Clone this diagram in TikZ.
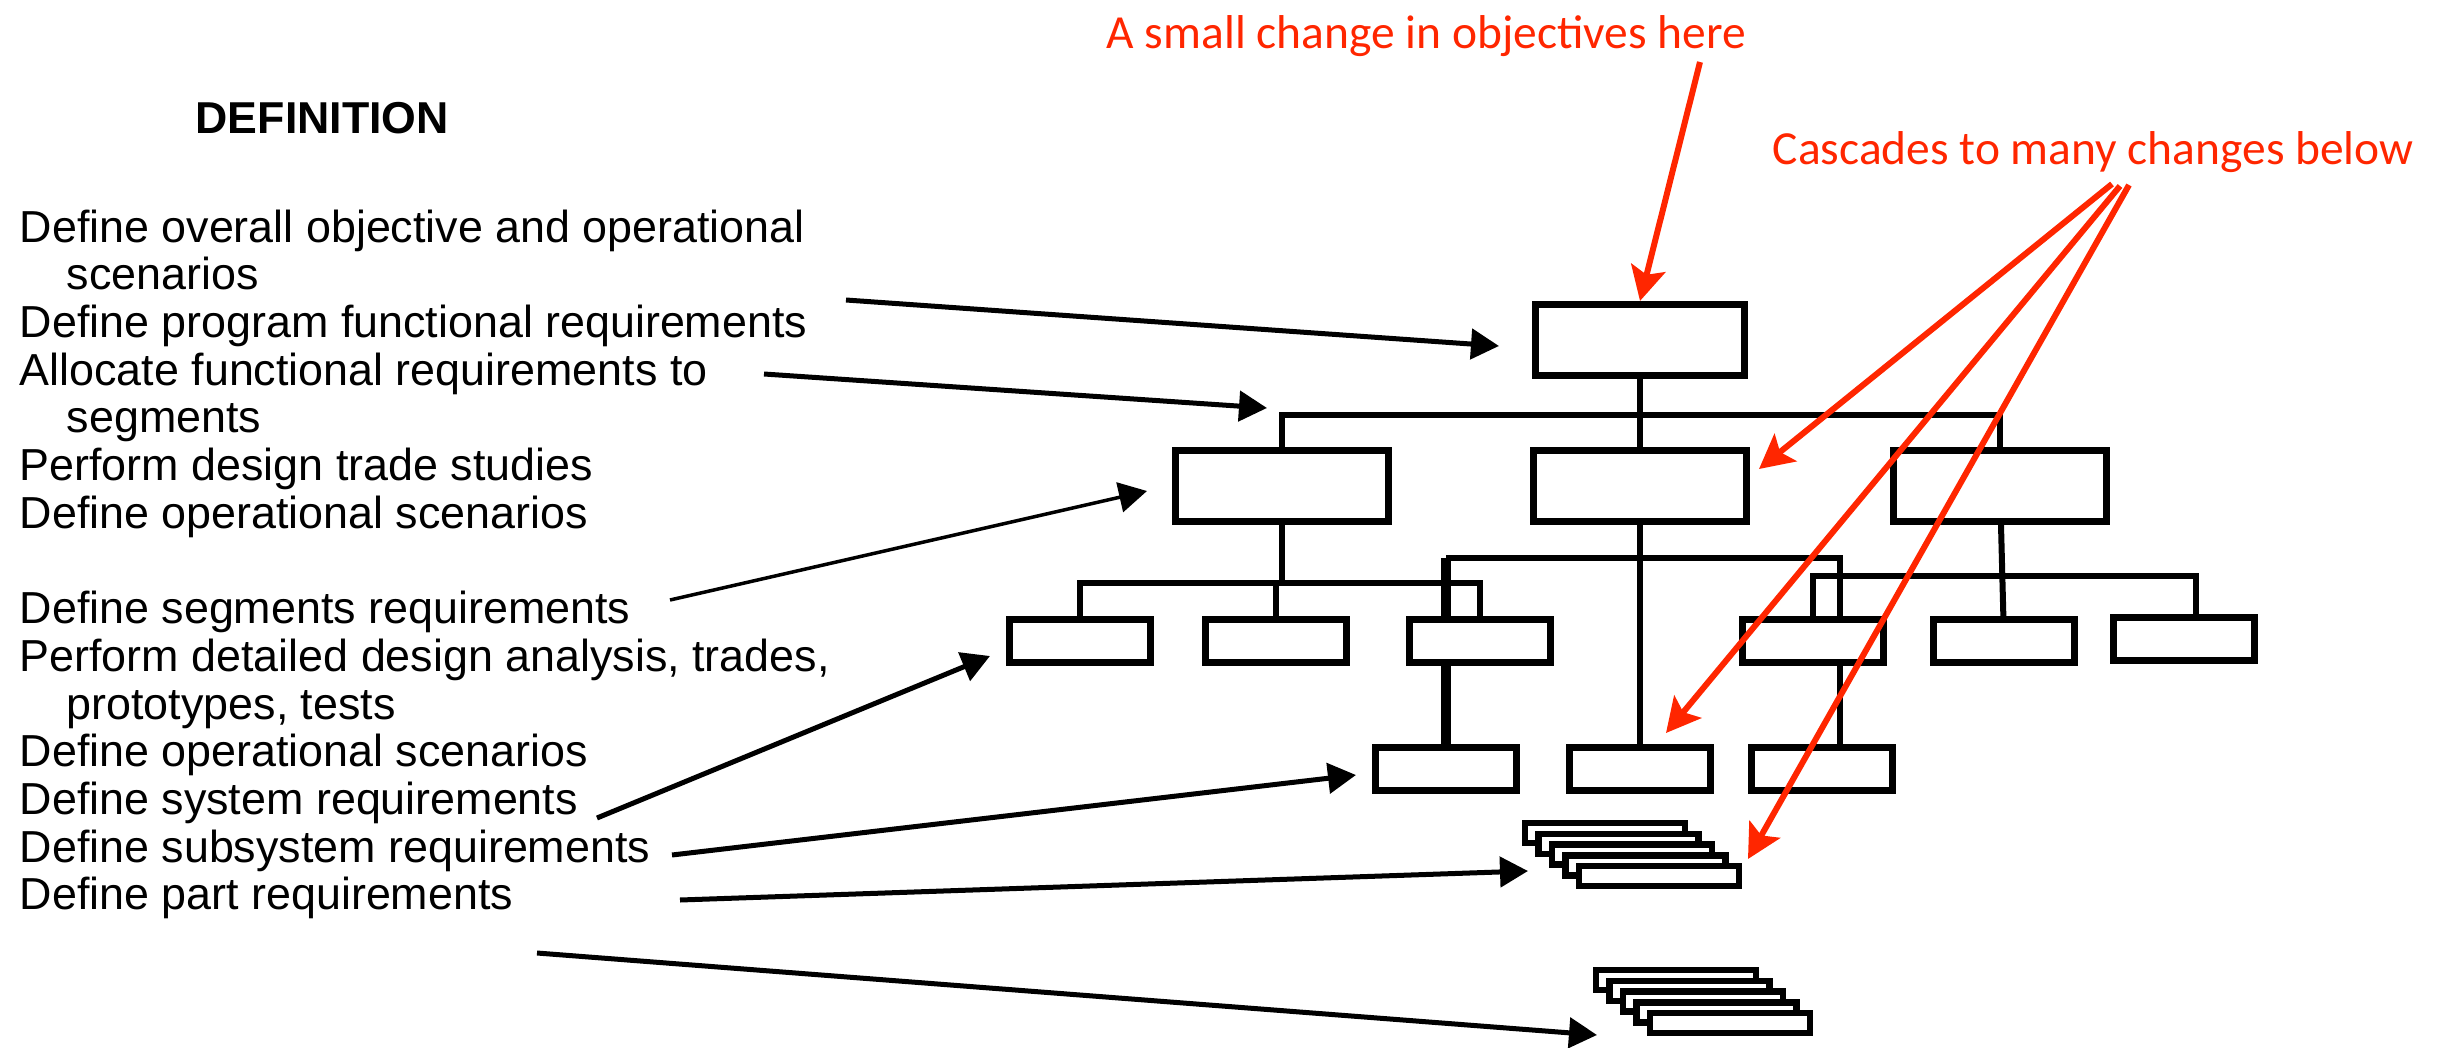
\documentclass[tikz,border=0pt]{standalone}
\usepackage{fontspec}
\setmainfont{Liberation Sans}
\newfontfamily\gillfont{Carlito}
\usepackage{tikz}
\usetikzlibrary{arrows.meta}
\usetikzlibrary{backgrounds}
\definecolor{warnred}{RGB}{255,38,0}

\begin{document}
\begin{tikzpicture}[x=0.01cm,y=-0.01cm,
  unit/.style={draw,fill=white,line width=0.07cm,inner sep=0pt,minimum width=2.13cm,minimum height=0.71cm},
  part/.style={unit,minimum width=1.40cm,minimum height=0.43cm},
  sheet/.style={draw,fill=white,line width=0.065cm,inner sep=0pt,minimum width=1.60cm,minimum height=0.20cm},
  link/.style={line width=0.06cm},
  pointer/.style={line width=0.05cm,-{Triangle[length=0.28cm,width=0.3cm]}},
  cascade/.style={warnred,line width=0.06cm,-{Stealth[length=0.34cm,width=0.35cm,inset=0.07cm]}}]
  \useasboundingbox (0,0) rectangle (2444,1048);

  % left column
  \node[anchor=base west,inner sep=0pt,font=\bfseries\fontsize{12.7}{14}\selectfont] (title) at (195,133) {DEFINITION};
  \node[anchor=north west,inner sep=0pt,align=left,font=\fontsize{12.75}{13.56}\selectfont] (steps) at (19,209)
    {Define overall objective and operational\\
     \hspace*{0.47cm}scenarios\\
     Define program functional requirements\\
     Allocate functional requirements to\\
     \hspace*{0.47cm}segments\\
     Perform design trade studies\\
     Define operational scenarios\\[13.56pt]
     Define segments requirements\\
     Perform detailed design analysis, trades,\\
     \hspace*{0.47cm}prototypes, tests\\
     Define operational scenarios\\
     Define system requirements\\
     Define subsystem requirements\\
     Define part requirements};

  % red notes
  \node[anchor=base west,inner sep=0pt,text=warnred,font=\gillfont\fontsize{13.5}{16}\selectfont] (hint) at (1106,48) {A small change in objectives here};
  \node[anchor=base west,inner sep=0pt,text=warnred,font=\gillfont\fontsize{13.5}{16}\selectfont] (effect) at (1772,164) {Cascades to many changes below};

  % tree
  \node[unit,minimum width=2.08cm] (top) at (1640,340) {};
  \node[unit] (segA) at (1282,486) {};
  \node[unit] (segB) at (1640,486) {};
  \node[unit] (segC) at (2000,486) {};
  \node[part] (sysA) at (1080,641) {};
  \node[part] (sysB) at (1276,641) {};
  \node[part] (sysC) at (1480,641) {};
  \node[part] (sysD) at (1813,641) {};
  \node[part] (sysE) at (2004,641) {};
  \node[part] (sysF) at (2184,639) {};
  \node[part] (subA) at (1446,769) {};
  \node[part] (subB) at (1640,769) {};
  \node[part] (subC) at (1822,769) {};

  \foreach \i in {0,...,4} {
    \node[sheet] (specs\i) at (1605+13.5*\i,833+10.75*\i) {};
    \node[sheet] (parts\i) at (1676+13.5*\i,980+10.75*\i) {};
  }

  \coordinate (bus1) at (0,415);
  \coordinate (bus2) at (0,583);
  \coordinate (bus3) at (0,558);
  \coordinate (bus4) at (0,576);
  \coordinate (tap) at (1840,558);
  \coordinate (tapR) at (2196,576);

  \begin{scope}[on background layer]
    \draw[link] (top) -- (segB);
    \draw[link] (segA.north) |- (segC.north |- bus1) -- (segC.north);
    \draw[link] (segA) -- (segA |- bus2);
    \draw[link] (sysA.north) |- (sysC.north |- bus2) -- (sysC.north);
    \draw[link] (sysB) -- (sysB |- bus2);
    \draw[link] (segB) -- (subB);
    \draw[link,line width=0.1cm] (subA) -- (subA |- bus3);
    \draw[link] (subA |- bus3) -- (tap) -- (tap |- subC.north);
    \draw[link] (segC) -- (sysE);
    \draw[link] (sysD.north) |- (tapR) -- (tapR |- sysF.north);
  \end{scope}

  % black pointers
  \coordinate (p1) at (846,300);  \coordinate (q1) at (1499,346);
  \coordinate (p2) at (764,374);  \coordinate (q2) at (1267,408);
  \coordinate (p3) at (670,600);  \coordinate (q3) at (1147,491);
  \coordinate (p4) at (597,818);  \coordinate (q4) at (990,656);
  \coordinate (p5) at (672,855);  \coordinate (q5) at (1356,775);
  \coordinate (p6) at (680,900);  \coordinate (q6) at (1528,871);
  \coordinate (p7) at (537,953);  \coordinate (q7) at (1597,1035);
  \foreach \k in {1,2,4,5,6,7}
    \draw[pointer] (p\k) -- (q\k);
  \draw[pointer,line width=0.035cm] (p3) -- (q3);

  % red arrows
  \coordinate (h0) at (1700,62);
  \coordinate (c1) at (2112,184); \coordinate (e1) at (1759,469);
  \coordinate (c2) at (2120,186); \coordinate (e2) at (1666,733);
  \coordinate (c3) at (2129,185); \coordinate (e3) at (1748,859);
  \draw[cascade] (h0) -- (top.north);
  \foreach \k in {1,2,3}
    \draw[cascade] (c\k) -- (e\k);
\end{tikzpicture}
\end{document}
